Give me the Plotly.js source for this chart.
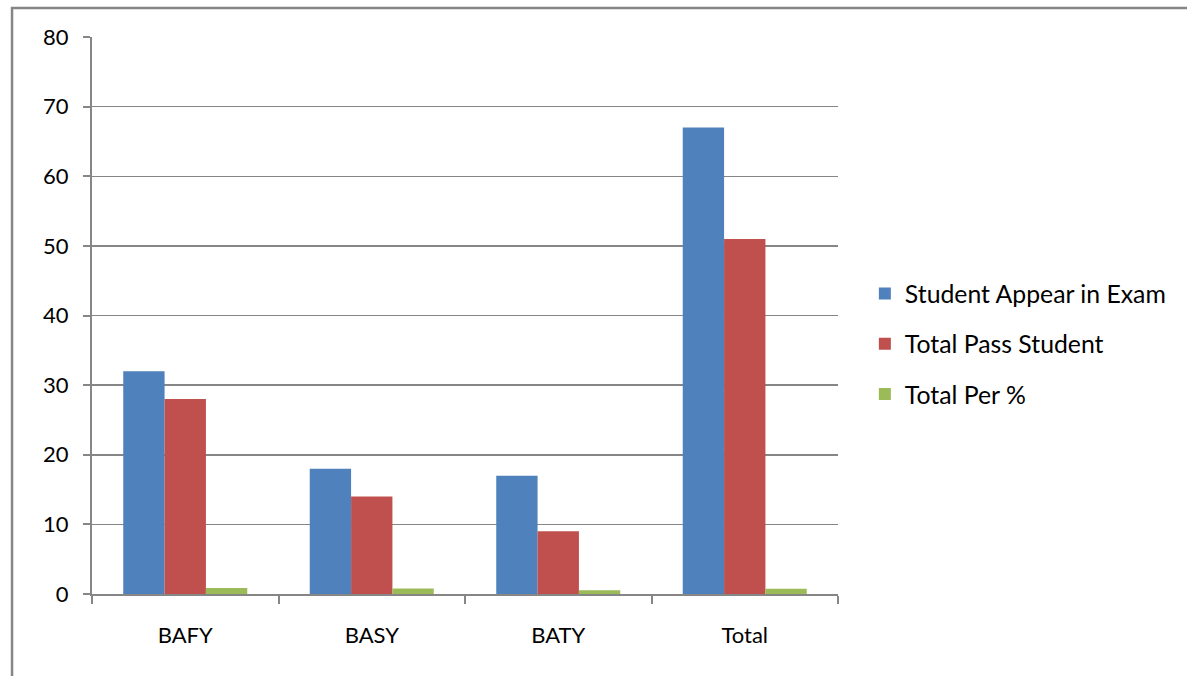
<!DOCTYPE html>
<html>
<head>
<meta charset="utf-8">
<script src="https://cdn.plot.ly/plotly-3.0.1.min.js"></script>
<style>html,body{margin:0;padding:0;background:#fff;}#chart{width:1187px;height:676px;}</style>
</head>
<body>
<div id="chart"></div>
<script>
const categories = ["BAFY", "BASY", "BATY", "Total"];
const appear = [32, 18, 17, 67];
const pass = [28, 14, 9, 51];
const perc = [0.875, 0.78, 0.53, 0.76];
const seriesNames = ["Student Appear in Exam", "Total Pass Student", "Total Per %"];
const yTicks = [0, 10, 20, 30, 40, 50, 60, 70, 80];

const colors = ["#4F81BD", "#C0504D", "#9BBB59"];
const FONT = "Lato, 'Open Sans', sans-serif";
const idx = categories.map((_, i) => i);
const vals = [appear, pass, perc];

const traces = vals.map((v, k) => ({
  type: "bar",
  x: idx,
  y: v,
  name: seriesNames[k],
  legendgroup: "g" + k,
  marker: {color: colors[k], line: {width: 0}},
  hoverinfo: "y"
}));

const layout = {
  width: 1187, height: 676,
  margin: {l: 92, r: 349, t: 37, b: 82},
  paper_bgcolor: "#fff", plot_bgcolor: "#fff",
  barmode: "group",
  bargap: 0.335,
  bargroupgap: 0,
  font: {family: FONT, size: 22, color: "#000"},
  xaxis: {
    range: [-0.5, 3.5],
    tickvals: [-0.5, 0.5, 1.5, 2.5, 3.5],
    ticktext: ["", "", "", "", ""],
    ticks: "outside", ticklen: 8, tickcolor: "#868686", tickwidth: 2,
    showgrid: false, zeroline: false,
    showline: true, linecolor: "#868686", linewidth: 2,
    fixedrange: true
  },
  xaxis2: {
    overlaying: "x", anchor: "y",
    range: [-0.5, 3.5],
    tickvals: idx, ticktext: categories,
    ticks: "", showgrid: false, zeroline: false, showline: false,
    ticklabelstandoff: 26,
    tickfont: {family: FONT, size: 22, color: "#000"}
  },
  yaxis: {
    range: [0, 80],
    tickvals: yTicks,
    ticks: "outside", ticklen: 7, tickcolor: "#868686", tickwidth: 2,
    showgrid: true, gridcolor: "#868686", gridwidth: 1.5,
    zeroline: false,
    showline: true, linecolor: "#868686", linewidth: 2,
    ticklabelstandoff: 10,
    tickfont: {family: FONT, size: 22, color: "#000"}
  },
  legend: {
    x: 1.036, xanchor: "left",
    y: 0.449, yanchor: "middle",
    traceorder: "grouped",
    tracegroupgap: 15,
    font: {family: FONT, size: 24.8, color: "#000"},
    bgcolor: "rgba(0,0,0,0)"
  },
  showlegend: true,
  shapes: [{
    type: "rect", xref: "paper", yref: "paper",
    x0: -0.1072, x1: 1.7, y0: -0.3, y1: 1.052,
    line: {color: "#868686", width: 2.5},
    layer: "below"
  }]
};

// dummy trace so xaxis2 is drawn
traces.push({type: "scatter", x: [0], y: [0], xaxis: "x2", mode: "none", showlegend: false, hoverinfo: "skip"});

Plotly.newPlot("chart", traces, layout, {displayModeBar: false, staticPlot: true});
</script>
</body>
</html>
